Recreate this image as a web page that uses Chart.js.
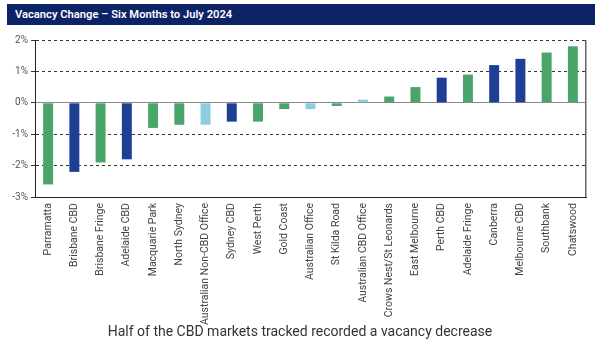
<!DOCTYPE html>
<html>
<head>
<meta charset="utf-8">
<script src="https://cdn.jsdelivr.net/npm/chart.js@4"></script>
<style>
  html, body { margin: 0; padding: 0; background: #fff; }
  #wrap { position: relative; width: 600px; height: 346px; overflow: hidden; }
  #title {
    position: absolute; left: 7px; top: 4px; width: 580px; height: 21px;
    padding-left: 8px; background: #0c2366; color: #fff;
    font: 600 11.2px Roboto, sans-serif; line-height: 21px;
  }
  #caption {
    position: absolute; left: 0; top: 323px; width: 600px; text-align: center;
    font: 400 14px Roboto, sans-serif; color: #333;
  }
  canvas { position: absolute; left: 0; top: 0; }
</style>
</head>
<body>
<div id="wrap">
  <canvas id="chart" width="600" height="346"></canvas>
  <div id="title">Vacancy Change – Six Months to July 2024</div>
  <div id="caption">Half of the CBD markets tracked recorded a vacancy decrease</div>
</div>
<script>
'use strict';

// ── Data ─────────────────────────────────────────────────────────────────────

const markets = [
  'Parramatta', 'Brisbane CBD', 'Brisbane Fringe', 'Adelaide CBD',
  'Macquarie Park', 'North Sydney', 'Australian Non-CBD Office', 'Sydney CBD',
  'West Perth', 'Gold Coast', 'Australian Office', 'St Kilda Road',
  'Australian CBD Office', 'Crows Nest/St Leonards', 'East Melbourne',
  'Perth CBD', 'Adelaide Fringe', 'Canberra', 'Melbourne CBD',
  'Southbank', 'Chatswood',
];

// vacancy change, percentage points
const vacancyChange = [
  -2.6, -2.2, -1.9, -1.8, -0.8, -0.7, -0.7, -0.6, -0.6, -0.2, -0.2,
  -0.1, 0.1, 0.2, 0.5, 0.8, 0.9, 1.2, 1.4, 1.6, 1.8,
];

// market type: 'cbd' | 'non' (non-CBD) | 'agg' (national aggregate)
const marketType = [
  'non', 'cbd', 'non', 'cbd', 'non', 'non', 'agg', 'cbd', 'non', 'non', 'agg',
  'non', 'agg', 'non', 'non', 'cbd', 'non', 'cbd', 'cbd', 'non', 'non',
];

const yTicks = [-3, -2, -1, 0, 1, 2];

// ── Styles ───────────────────────────────────────────────────────────────────

const COLORS = { cbd: '#1e3f94', non: '#4aa56a', agg: '#8dcde0' };
const FONT   = 'Roboto, sans-serif';

// grey frame line on the right edge of the plot area
const rightFrame = {
  id: 'rightFrame',
  afterDraw(chart) {
    const { ctx, chartArea: a } = chart;
    ctx.save();
    ctx.fillStyle = '#666';
    ctx.fillRect(Math.round(a.right) - 1, Math.round(a.top), 1.5, Math.round(a.bottom - a.top));
    ctx.restore();
  },
};

new Chart(document.getElementById('chart'), {
  type: 'bar',
  data: {
    labels: markets,
    datasets: [{
      data: vacancyChange,
      backgroundColor: marketType.map(t => COLORS[t]),
      borderWidth: 0,
      barPercentage: 0.38,
      categoryPercentage: 1,
    }],
  },
  plugins: [rightFrame],
  options: {
    responsive: false,
    animation: false,
    layout: { padding: { top: 40, right: 14, left: 0, bottom: 0 } },
    plugins: { legend: { display: false }, tooltip: { enabled: false } },
    scales: {
      x: {
        grid: { display: false, drawTicks: false },
        border: { color: '#222', width: 1 },
        ticks: {
          color: '#444', font: { family: FONT, size: 10.5 },
          minRotation: 90, maxRotation: 90, autoSkip: false, padding: 6,
        },
        afterFit: s => { s.height = 149; },
      },
      y: {
        min: -3, max: 2,
        afterBuildTicks: s => { s.ticks = yTicks.map(v => ({ value: v })); },
        grid: {
          color: ctx => (ctx.tick && ctx.tick.value === 0 ? '#8a8a8a' : '#333'),
          lineWidth: 1,
          tickLength: 4,
          tickColor: '#333',
        },
        border: {
          color: '#222',
          dash: ctx => (ctx.tick && ctx.tick.value !== 0 ? [3, 3] : []),
        },
        ticks: {
          color: '#555', font: { family: FONT, size: 10 }, padding: 3,
          callback: v => v + '%',
        },
        afterFit: s => { s.width = 35; },
      },
    },
  },
});
</script>
</body>
</html>
